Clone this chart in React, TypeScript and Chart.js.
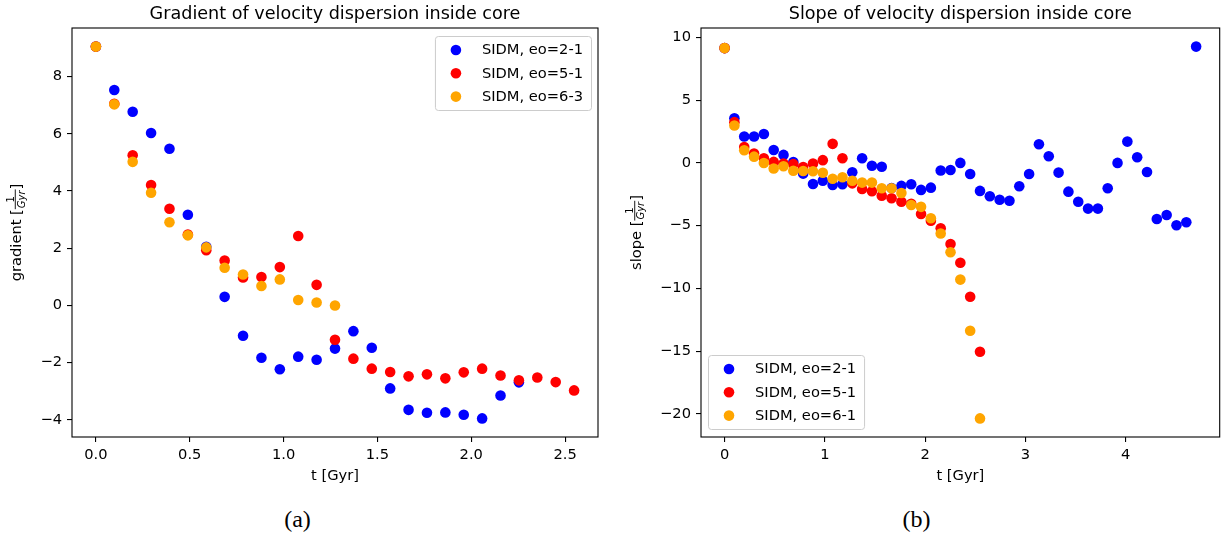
import React, { useEffect, useRef } from "react";
import { Chart, registerables } from "chart.js";

Chart.register(...registerables);

// ---------- data ----------
const TIME = [
  0.0, 0.098, 0.196, 0.294, 0.392, 0.49, 0.588, 0.686, 0.784, 0.882, 0.98, 1.078, 1.176,
  1.274, 1.372, 1.47, 1.568, 1.666, 1.764, 1.862, 1.96, 2.058, 2.156, 2.254, 2.352, 2.45,
  2.548, 2.646, 2.744, 2.842, 2.94, 3.038, 3.136, 3.234, 3.332, 3.43, 3.528, 3.626, 3.724,
  3.822, 3.92, 4.018, 4.116, 4.214, 4.312, 4.41, 4.508, 4.606, 4.704,
];

const GRAD_21 = [
  9.05, 7.53, 6.77, 6.03, 5.48, 3.17, 2.05, 0.3, -1.06, -1.83, -2.23, -1.79, -1.9, -1.51,
  -0.9, -1.48, -2.9, -3.65, -3.75, -3.74, -3.82, -3.95, -3.15, -2.69,
];
const GRAD_51 = [
  9.05, 7.05, 5.25, 4.21, 3.38, 2.48, 1.93, 1.57, 0.98, 0.99, 1.34, 2.43, 0.72, -1.2,
  -1.86, -2.21, -2.33, -2.48, -2.41, -2.55, -2.34, -2.21, -2.45, -2.62, -2.52, -2.68, -2.97,
];
const GRAD_63 = [9.05, 7.03, 5.02, 3.94, 2.91, 2.45, 2.03, 1.32, 1.08, 0.68, 0.91, 0.19, 0.1, 0.0];

const SLOPE_21 = [
  9.15, 3.55, 2.1, 2.1, 2.3, 1.03, 0.64, 0.07, -0.85, -1.68, -1.42, -1.75, -1.7, -0.74,
  0.37, -0.22, -0.3, -2.0, -1.83, -1.7, -2.15, -1.97, -0.61, -0.56, 0.0, -0.88, -2.23,
  -2.66, -2.93, -3.01, -1.86, -0.88, 1.49, 0.53, -0.77, -2.29, -3.09, -3.64, -3.64, -2.02,
  0.0, 1.7, 0.45, -0.72, -4.47, -4.15, -4.97, -4.73, 9.27,
];
const SLOPE_51 = [
  9.15, 3.25, 1.26, 0.75, 0.37, 0.08, -0.05, -0.1, -0.32, -0.05, 0.22, 1.52, 0.37, -1.63,
  -2.08, -2.26, -2.62, -2.82, -3.1, -3.25, -4.07, -4.6, -5.21, -6.47, -7.95, -10.66, -15.05,
];
const SLOPE_61 = [
  9.15, 2.98, 1.01, 0.5, -0.01, -0.44, -0.27, -0.62, -0.65, -0.66, -0.78, -1.26, -1.14,
  -1.42, -1.57, -1.57, -2.02, -2.02, -2.4, -3.35, -3.5, -4.41, -5.63, -7.12, -9.3, -13.37,
  -20.36,
];

const GRAD_X_TICKS = [0, 0.5, 1, 1.5, 2, 2.5];
const GRAD_Y_TICKS = [-4, -2, 0, 2, 4, 6, 8];
const SLOPE_X_TICKS = [0, 1, 2, 3, 4];
const SLOPE_Y_TICKS = [-20, -15, -10, -5, 0, 5, 10];

const LABELS_A = ["SIDM, eo=2-1", "SIDM, eo=5-1", "SIDM, eo=6-3"];
const LABELS_B = ["SIDM, eo=2-1", "SIDM, eo=5-1", "SIDM, eo=6-1"];
const COLORS = ["#0000ff", "#ff0000", "#ffa500"];

// ---------- style ----------
const FONT = '"DejaVu Sans", "Liberation Sans", sans-serif';
const TITLE_PX = 17.6;
const LABEL_PX = 14.67;
const FRAC_PX = 10;
const INK = "#000000";
const RADIUS = 5.3;

function fmtSigned(v: number, digits: number) {
  const s = Math.abs(v).toFixed(digits);
  return v < 0 ? "\u2212" + s : s;
}

function paddedRange(series: number[][], useTime: boolean) {
  let lo = Infinity;
  let hi = -Infinity;
  series.forEach((vals) =>
    vals.forEach((v, i) => {
      const x = useTime ? TIME[i] : v;
      lo = Math.min(lo, x);
      hi = Math.max(hi, x);
    })
  );
  const m = (hi - lo) * 0.05;
  return [lo - m, hi + m];
}

function drawYLabel(ctx: CanvasRenderingContext2D, word: string, bx: number, cy: number) {
  const big = `${LABEL_PX}px ${FONT}`;
  const small = `${FRAC_PX}px ${FONT}`;
  const smallIt = `italic ${FRAC_PX}px ${FONT}`;
  ctx.font = big;
  const w1 = ctx.measureText(word + " [").width;
  const w3 = ctx.measureText("]").width;
  ctx.font = smallIt;
  const wd = ctx.measureText("Gyr").width;
  ctx.font = small;
  const wn = ctx.measureText("1").width;
  const wf = Math.max(wd, wn) + 2;
  const total = w1 + wf + w3;
  ctx.save();
  ctx.translate(bx, cy);
  ctx.rotate(-Math.PI / 2);
  ctx.textAlign = "left";
  ctx.textBaseline = "alphabetic";
  let x = -total / 2;
  ctx.font = big;
  ctx.fillText(word + " [", x, 0);
  x += w1;
  ctx.font = small;
  ctx.fillText("1", x + (wf - wn) / 2, -7.5);
  ctx.fillRect(x, -6.2, wf, 0.9);
  ctx.font = smallIt;
  ctx.fillText("Gyr", x + (wf - wd) / 2, 3.6);
  x += wf;
  ctx.font = big;
  ctx.fillText("]", x, 0);
  ctx.restore();
}

const decor = {
  id: "decor",
  afterDraw(chart: any, _args: any, opts: any) {
    const { ctx, chartArea: a } = chart;
    ctx.save();
    // frame
    ctx.strokeStyle = INK;
    ctx.lineWidth = 1.1;
    ctx.strokeRect(a.left, a.top, a.right - a.left, a.bottom - a.top);
    // title
    ctx.fillStyle = INK;
    ctx.textAlign = "center";
    ctx.textBaseline = "alphabetic";
    ctx.font = `${TITLE_PX}px ${FONT}`;
    ctx.fillText(opts.title, (a.left + a.right) / 2, 18.5);
    // x label
    ctx.font = `${LABEL_PX}px ${FONT}`;
    ctx.fillText(opts.xlabel, (a.left + a.right) / 2, 480);
    // y label
    drawYLabel(ctx, opts.ylabel, opts.ylabelX, (a.top + a.bottom) / 2);
    // legend
    ctx.font = `${LABEL_PX}px ${FONT}`;
    const tw = Math.max(...opts.labels.map((s: string) => ctx.measureText(s).width));
    const w = 47 + tw + 8;
    const h = 74;
    const x0 = opts.legendPos === "ur" ? a.right - 7 - w : a.left + 7;
    const y0 = opts.legendPos === "ur" ? a.top + 8 : a.bottom - 8 - h;
    ctx.beginPath();
    ctx.roundRect(x0 + 0.5, y0 + 0.5, w, h, 3);
    ctx.fillStyle = "rgba(255,255,255,0.8)";
    ctx.fill();
    ctx.strokeStyle = "#cccccc";
    ctx.lineWidth = 1;
    ctx.stroke();
    ctx.textAlign = "left";
    ctx.textBaseline = "middle";
    opts.labels.forEach((s: string, k: number) => {
      const cy = y0 + 14 + k * 23.3;
      ctx.beginPath();
      ctx.arc(x0 + 21, cy, RADIUS, 0, Math.PI * 2);
      ctx.fillStyle = COLORS[k];
      ctx.fill();
      ctx.fillStyle = INK;
      ctx.fillText(s, x0 + 47, cy + 0.5);
    });
    ctx.restore();
  },
};

type PanelProps = {
  series: number[][];
  labels: string[];
  title: string;
  ylabel: string;
  xTicks: number[];
  yTicks: number[];
  xDigits: number;
  width: number;
  height: number;
  left: number;
  axisW: number;
  padRight: number;
  ylabelX: number;
  legendPos: string;
};

function Panel(p: PanelProps) {
  const ref = useRef<HTMLCanvasElement | null>(null);
  useEffect(() => {
    if (!ref.current) return;
    const [xmin, xmax] = paddedRange(p.series, true);
    const [ymin, ymax] = paddedRange(p.series, false);
    const tickFont = { family: FONT, size: LABEL_PX };
    const grid = {
      display: true,
      drawOnChartArea: false,
      drawTicks: true,
      tickLength: 5,
      color: INK,
      lineWidth: 1.1,
    };
    const chart = new Chart(ref.current, {
      type: "scatter",
      data: {
        datasets: p.series.map((vals, k) => ({
          label: p.labels[k],
          data: vals.map((y, i) => ({ x: TIME[i], y })),
          backgroundColor: COLORS[k],
          borderColor: COLORS[k],
          borderWidth: 0,
          pointRadius: RADIUS,
          pointHoverRadius: RADIUS,
          order: 3 - k,
        })),
      },
      options: {
        responsive: false,
        animation: false,
        events: [],
        layout: { padding: { top: 28, right: p.padRight, left: 0, bottom: 0 } },
        plugins: {
          legend: { display: false },
          tooltip: { enabled: false },
          title: { display: false },
          decor: {
            title: p.title,
            xlabel: "t [Gyr]",
            ylabel: p.ylabel,
            ylabelX: p.ylabelX,
            labels: p.labels,
            legendPos: p.legendPos,
          },
        } as any,
        scales: {
          x: {
            type: "linear",
            min: xmin,
            max: xmax,
            afterBuildTicks: (s: any) => {
              s.ticks = p.xTicks.map((v) => ({ value: v }));
            },
            afterFit: (s: any) => {
              s.height = p.height - 437;
            },
            ticks: {
              callback: (v: any) => fmtSigned(Number(v), p.xDigits),
              font: tickFont,
              color: INK,
              padding: 4,
              autoSkip: false,
              maxRotation: 0,
              minRotation: 0,
            },
            grid,
            border: { display: false },
          },
          y: {
            type: "linear",
            min: ymin,
            max: ymax,
            afterBuildTicks: (s: any) => {
              s.ticks = p.yTicks.map((v) => ({ value: v }));
            },
            afterFit: (s: any) => {
              s.width = p.axisW;
            },
            ticks: {
              callback: (v: any) => fmtSigned(Number(v), 0),
              font: tickFont,
              color: INK,
              padding: 5,
              autoSkip: false,
            },
            grid,
            border: { display: false },
          },
        },
      },
      plugins: [decor as any],
    });
    return () => chart.destroy();
  }, []);
  return (
    <canvas
      ref={ref}
      width={p.width}
      height={p.height}
      style={{ position: "absolute", left: p.left, top: 0, width: p.width, height: p.height }}
    />
  );
}

const captionStyle: React.CSSProperties = {
  position: "absolute",
  top: 507,
  fontFamily: '"Liberation Serif", "DejaVu Serif", serif',
  fontSize: 24,
  lineHeight: "24px",
  color: "#000",
  transform: "translateX(-50%)",
  whiteSpace: "nowrap",
};

export default function App() {
  return (
    <div
      style={{
        position: "absolute",
        left: 0,
        top: 0,
        width: 1225,
        height: 542,
        background: "#ffffff",
        overflow: "hidden",
      }}
    >
      <Panel
        series={[GRAD_21, GRAD_51, GRAD_63]}
        labels={LABELS_A}
        title="Gradient of velocity dispersion inside core"
        ylabel="gradient"
        xTicks={GRAD_X_TICKS}
        yTicks={GRAD_Y_TICKS}
        xDigits={1}
        width={612}
        height={490}
        left={0}
        axisW={72}
        padRight={14}
        ylabelX={21}
        legendPos="ur"
      />
      <Panel
        series={[SLOPE_21, SLOPE_51, SLOPE_61]}
        labels={LABELS_B}
        title="Slope of velocity dispersion inside core"
        ylabel="slope"
        xTicks={SLOPE_X_TICKS}
        yTicks={SLOPE_Y_TICKS}
        xDigits={0}
        width={613}
        height={490}
        left={612}
        axisW={89}
        padRight={5}
        ylabelX={28.5}
        legendPos="ll"
      />
      <div style={{ ...captionStyle, left: 297.5 }}>(a)</div>
      <div style={{ ...captionStyle, left: 916.5 }}>(b)</div>
    </div>
  );
}
